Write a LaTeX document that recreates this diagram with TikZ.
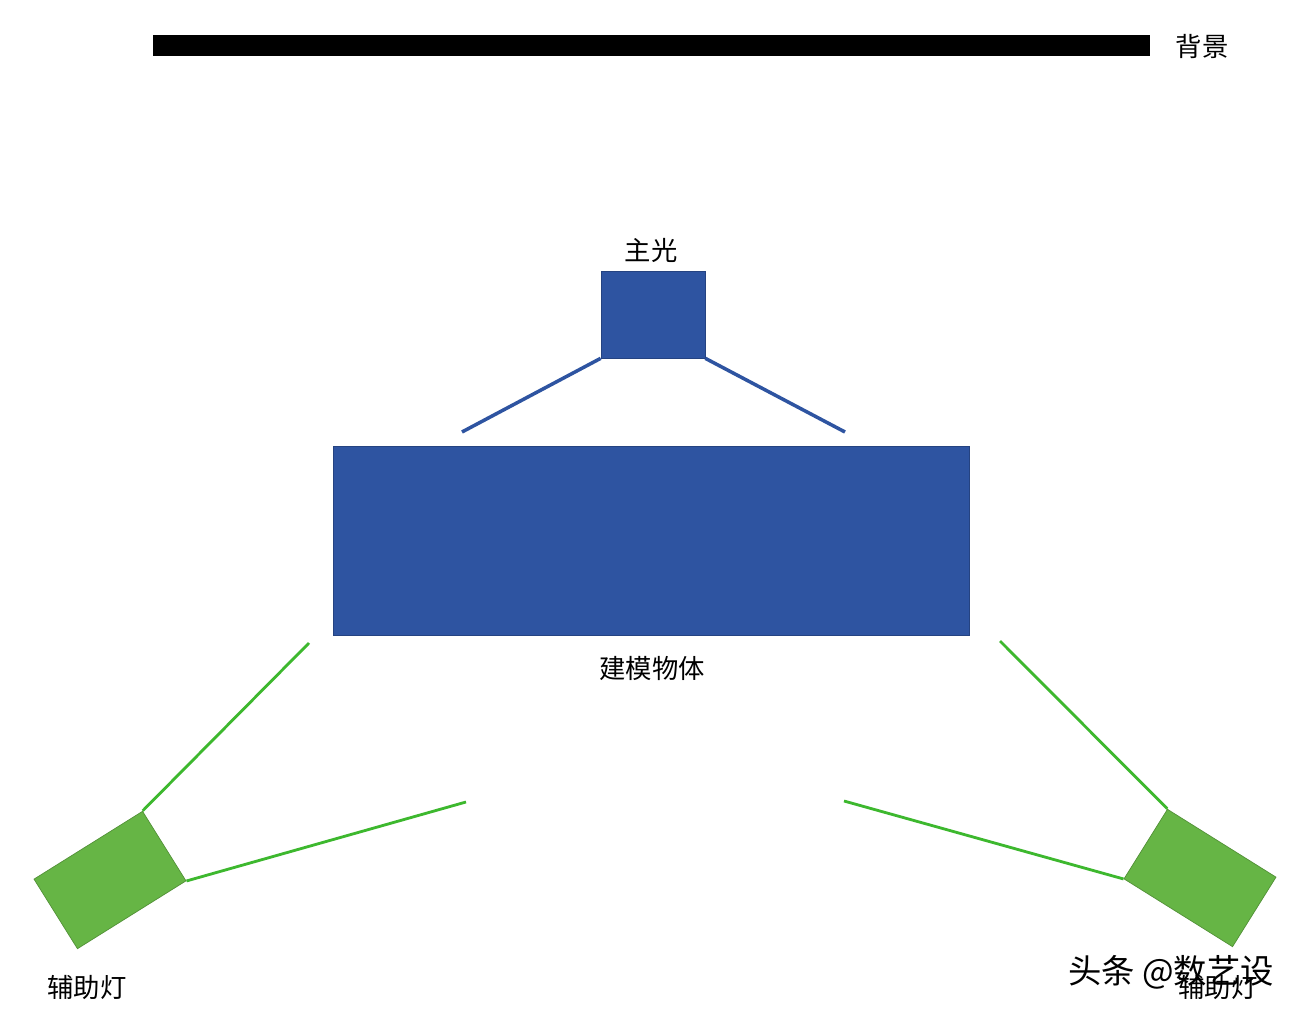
\documentclass[tikz,border=0pt]{standalone}
\usepackage{fontspec}
\newfontfamily\cjk{Noto Sans CJK SC}
\usetikzlibrary{positioning}
\definecolor{boxblue}{HTML}{2E54A1}
\definecolor{lampgreen}{HTML}{66B545}
\definecolor{beamgreen}{HTML}{3DB82E}
\tikzset{
	label/.style={font=\cjk\fontsize{15}{18}\selectfont, text=black},
	bluebox/.style={rectangle, fill=boxblue, draw=boxblue!80!black, inner sep=0pt},
	lamp/.style={rectangle, fill=lampgreen, draw=lampgreen!80!black, inner sep=0pt, minimum width=2.56cm, minimum height=1.64cm},
	bluebeam/.style={draw=boxblue, line width=2pt},
	greenbeam/.style={draw=beamgreen, line width=1.6pt}
}
\begin{document}
\begin{tikzpicture}[x=0.02cm, y=-0.02cm]
			\useasboundingbox[fill=white] (0,0) rectangle (1302,1020);
			% Nodes
			\node (backdrop) [rectangle, fill=black, inner sep=0pt, minimum width=19.94cm, minimum height=0.42cm] at (651.5,45.5) {};
			\node (backdroptext) [label] at (1202,46) {背景};
			\node (key) [bluebox, minimum width=2.08cm, minimum height=1.74cm] at (653,314.5) {};
			\node (keytext) [label] at (651,250) {主光};
			\node (model) [bluebox, minimum width=12.72cm, minimum height=3.78cm] at (651,540.5) {};
			\node (modeltext) [label] at (652,668) {建模物体};
			\node (fillL) [lamp, rotate=32] at (110,880) {};
			\node (fillR) [lamp, rotate=-32] at (1200,878) {};
			\node (fillLtext) [label] at (87,988) {辅助灯};
			\node (fillRtext) [label] at (1218,988) {辅助灯};
			\node (mark) [font=\cjk\fontsize{19}{23}\selectfont, text=black] at (1171,972) {头条 @数艺设};
			
			% Beam ends
			\coordinate (keyL) at (462,432);
			\coordinate (keyR) at (845,432);
			\coordinate (fillLa) at (309,643);
			\coordinate (fillLb) at (466,802);
			\coordinate (fillRa) at (1000,641);
			\coordinate (fillRb) at (844,801);
			
			% Beams
			\draw [bluebeam] (key.south west) -- (keyL);
			\draw [bluebeam] (key.south east) -- (keyR);
			\draw [greenbeam] (fillL.north east) -- (fillLa);
			\draw [greenbeam] (fillL.south east) -- (fillLb);
			\draw [greenbeam] (fillR.north west) -- (fillRa);
			\draw [greenbeam] (fillR.south west) -- (fillRb);
		\end{tikzpicture}
\end{document}
